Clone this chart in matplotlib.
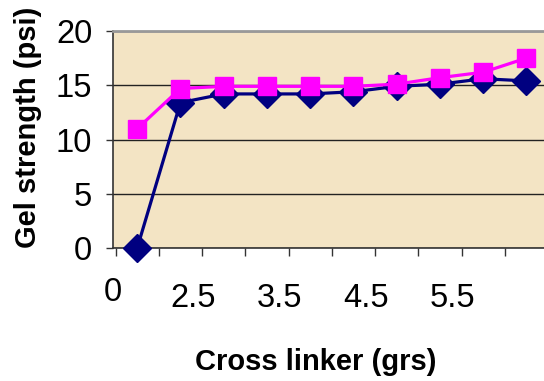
import matplotlib
matplotlib.use("Agg")
import matplotlib.pyplot as plt
import numpy as np

# Data
categories = ["0", "2", "2.5", "3", "3.5", "4", "4.5", "5", "5.5", "6"]
series_blue = [0.0, 13.4, 14.2, 14.2, 14.2, 14.4, 14.9, 15.1, 15.6, 15.4]
series_pink = [11.0, 14.7, 14.9, 14.9, 14.9, 14.9, 15.1, 15.7, 16.2, 17.5]
x_tick_labels = ["0", "2.5", "3.5", "4.5", "5.5"]
y_ticks = [0, 5, 10, 15, 20]

plt.rcParams["font.family"] = ["Liberation Sans", "DejaVu Sans"]

fig = plt.figure(figsize=(5.44, 3.81), dpi=100)
fig.patch.set_facecolor("white")
W, H = 544, 381
left, top, bottom = 113, 31, 248
right = 113 + 10 * 43.5
ax = fig.add_axes([left / W, 1 - bottom / H, (right - left) / W, (bottom - top) / H])
ax.set_facecolor("#F3E4C4")

x = np.arange(len(categories))
ax.plot(x, series_blue, color="#000080", lw=2.3, marker="D", markersize=14,
        markerfacecolor="#000080", markeredgecolor="#000080", clip_on=False, zorder=3)
ax.plot(x, series_pink, color="#FF00FF", lw=2.3, marker="s", markersize=13.5,
        markerfacecolor="#FF00FF", markeredgecolor="#FF00FF", clip_on=False, zorder=4)

ax.set_xlim(-0.5, len(categories) - 0.5)
ax.set_ylim(0, 20)

# gridlines
ax.set_yticks(y_ticks)
ax.yaxis.grid(True, color="#222222", lw=1.0)
ax.set_axisbelow(True)

# spines
ax.spines["right"].set_visible(False)
ax.spines["top"].set_color("#999999")
ax.spines["top"].set_linewidth(2)
ax.spines["left"].set_color("#333333")
ax.spines["bottom"].set_color("#333333")
ax.spines["left"].set_linewidth(1.2)
ax.spines["bottom"].set_linewidth(1.2)

ax.tick_params(axis="y", which="major", direction="out", length=5, width=1.0,
               color="#333333", labelsize=23.5, pad=10)

# x ticks: boundary marks (major) and labels (minor)
ax.set_xticks(np.arange(-0.5, len(categories), 1.0))
ax.set_xticklabels([])
ax.tick_params(axis="x", which="major", direction="out", length=6, width=1.0, color="#333333")
label_pos = [-0.56] + [1.29 + 2 * k for k in range(len(x_tick_labels) - 1)]
ax.set_xticks(label_pos, minor=True)
ax.set_xticklabels(x_tick_labels, minor=True)
ax.tick_params(axis="x", which="minor", length=0, labelsize=23.5, pad=25)
mt = ax.xaxis.get_minor_ticks()
mt[0].set_pad(21)

ax.set_ylabel("Gel strength (psi)", fontsize=21, fontweight="bold")
ax.yaxis.set_label_coords(-85 / (right - left), (bottom - 127) / (bottom - top))
ax.set_xlabel("Cross linker (grs)", fontsize=21, fontweight="bold")
ax.xaxis.set_label_coords((316 - left) / (right - left), -(362 - bottom) / (bottom - top))
ax.xaxis.label.set_va("center")
ax.yaxis.label.set_va("center")

fig.savefig("out.png", dpi=100)
